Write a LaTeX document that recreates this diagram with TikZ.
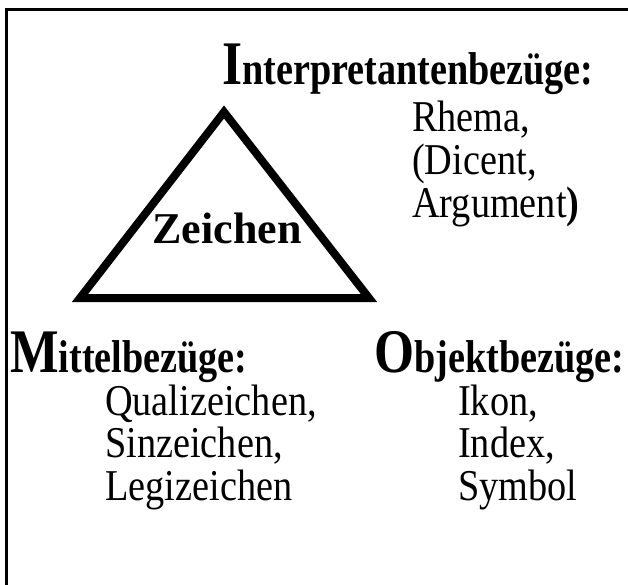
\documentclass[tikz,border=0pt]{standalone}
\usepackage{fontspec}
\setmainfont{Liberation Serif}[FakeStretch=0.87]
\newfontfamily\kopffont{Liberation Serif}[FakeStretch=0.83]
\newfontfamily\zeichenfont{Liberation Serif}
\usepackage{tikz}
\usetikzlibrary{positioning}
\newcommand{\grossinitial}[1]{{\fontsize{62}{62}\selectfont #1}}
\tikzset{
  every picture/.style={x=1pt, y=-1pt},
  kopf/.style={anchor=base west, inner sep=0pt, font=\kopffont\fontsize{46}{46}\selectfont\bfseries},
  eintrag/.style={anchor=base west, inner sep=0pt, font=\fontsize{44}{44}\selectfont},
  dreieck/.style={line width=8pt, line join=miter},
  rahmen/.style={line width=3pt},
}
\begin{document}
\begin{tikzpicture}
  \useasboundingbox (0,0) rectangle (628,585);
  \draw[rahmen] (6,590) -- (6,10) -- (632,10);
  % Dreieck
  \coordinate (spitze) at (224,112);
  \coordinate (links) at (80,298);
  \coordinate (rechts) at (369,298);
  \draw[dreieck] (spitze) -- (links) -- (rechts) -- cycle;
  \node[anchor=base, inner sep=0pt, font=\zeichenfont\fontsize{44}{44}\selectfont\bfseries] (zeichen) at (227,243) {Zeichen};
  % Interpretant
  \node[kopf] (interpretant) at (222,85) {\grossinitial{I}nterpretantenbezüge:};
  \node[eintrag] (rhema) at (412,132) {Rhema,};
  \node[eintrag] (dicent) at (412,175) {(Dicent,};
  \node[eintrag] (argument) at (412,218) {Argument\textbf{)}};
  % Mittel
  \node[kopf] (mittel) at (10,372) {\grossinitial{M}ittelbezüge:};
  \node[eintrag] (quali) at (105,415) {Qualizeichen,};
  \node[eintrag] (sin) at (105,457) {Sinzeichen,};
  \node[eintrag] (legi) at (105,500) {Legizeichen};
  % Objekt
  \node[kopf] (objekt) at (374,372) {\grossinitial{O}bjektbezüge:};
  \node[eintrag] (ikon) at (458,415) {Ikon,};
  \node[eintrag] (index) at (458,457) {Index,};
  \node[eintrag] (symbol) at (458,500) {Symbol};
\end{tikzpicture}
\end{document}
